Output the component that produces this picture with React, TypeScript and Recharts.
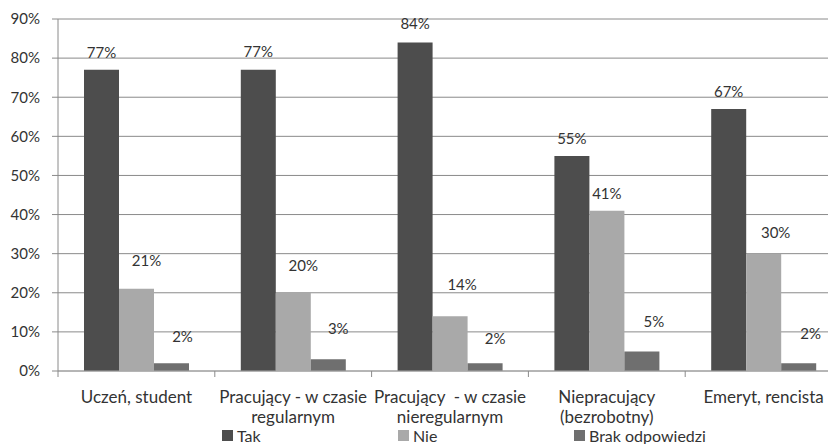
import React from "react";
import { Bar, BarChart, CartesianGrid, LabelList, Legend, XAxis, YAxis } from "recharts";

// group labels ("\n" marks a line break under the axis)
const categories = [
  "Uczeń, student",
  "Pracujący - w czasie\nregularnym",
  "Pracujący  - w czasie\nnieregularnym",
  "Niepracujący\n(bezrobotny)",
  "Emeryt, rencista",
];

const takValues = [77, 77, 84, 55, 67];
const nieValues = [21, 20, 14, 41, 30];
const brakValues = [2, 3, 2, 5, 2];

const yTicks = [0, 10, 20, 30, 40, 50, 60, 70, 80, 90];

const data = categories.map((name, i) => ({
  name,
  tak: takValues[i],
  nie: nieValues[i],
  brak: brakValues[i],
}));

const CHART_W = 850;
const CHART_H = 444;
const MARGIN = { top: 19, right: 8, left: 0, bottom: 0 };
const Y_W = 58;
const BAND = (CHART_W - MARGIN.left - MARGIN.right - Y_W) / categories.length;
const FONT = "Lato, 'Open Sans', sans-serif";

const series = [
  { key: "tak", name: "Tak", color: "#4d4d4d" },
  { key: "nie", name: "Nie", color: "#a9a9a9" },
  { key: "brak", name: "Brak odpowiedzi", color: "#6f6f6f" },
];

// hand-placed label nudges per series: [dx, lift above bar top]
const labelNudge: Record<string, number[][]> = {
  tak: [[0, 18], [0, 19], [0, 19], [0, 18], [0, 18]],
  nie: [[10, 29], [10, 28], [12, 32], [0, 18], [12, 22]],
  brak: [[11, 27], [10, 31], [10, 25], [12, 30], [12, 30]],
};

const makeLabel = (key: string) => (props: any) => {
  const { x, y, width, value, index } = props;
  const [dx, lift] = labelNudge[key][index] || [0, 18];
  return (
    <text
      x={x + width / 2 + dx}
      y={y - lift}
      textAnchor="middle"
      dominantBaseline="central"
      fontSize={15}
      fontFamily={FONT}
      fill="#333"
    >
      {`${value}%`}
    </text>
  );
};

const CategoryTick = (props: any) => {
  const { x, y, payload } = props;
  const lines = String(payload.value).split("\n");
  return (
    <g>
      <line x1={x - BAND / 2} y1={y} x2={x - BAND / 2} y2={y + 6} stroke="#8a8a8a" />
      {lines.map((line, i) => (
        <text
          key={i}
          x={x}
          y={y + 32 + i * 20}
          textAnchor="middle"
          fontSize={17}
          fontFamily={FONT}
          fill="#333"
          style={{ whiteSpace: "pre" }}
        >
          {line}
        </text>
      ))}
    </g>
  );
};

const LegendRow = () => (
  <div
    style={{
      height: 20,
      display: "flex",
      paddingLeft: 222,
      paddingTop: 3,
      boxSizing: "border-box",
      fontFamily: FONT,
      fontSize: 16,
      color: "#333",
      lineHeight: "16px",
    }}
  >
    {series.map((s) => (
      <div key={s.key} style={{ width: 176, display: "flex", alignItems: "center" }}>
        <span
          style={{
            display: "inline-block",
            width: 11,
            height: 11,
            background: s.color,
            marginRight: 4,
          }}
        />
        <span>{s.name}</span>
      </div>
    ))}
  </div>
);

export default function App() {
  return (
    <div
      style={{
        position: "fixed",
        left: 0,
        top: 0,
        width: 828,
        height: 444,
        overflow: "hidden",
        background: "#fff",
      }}
    >
      <BarChart
        width={CHART_W}
        height={CHART_H}
        data={data}
        margin={MARGIN}
        barCategoryGap={26}
        barGap={0}
      >
        <CartesianGrid vertical={false} stroke="#8a8a8a" />
        <XAxis
          dataKey="name"
          height={53}
          interval={0}
          tickSize={0}
          tickMargin={0}
          tickLine={false}
          axisLine={{ stroke: "#a6a6a6" }}
          tick={<CategoryTick />}
        />
        <YAxis
          width={Y_W}
          domain={[0, 90]}
          ticks={yTicks}
          interval={0}
          tickSize={6}
          tickMargin={12}
          tickLine={{ stroke: "#8a8a8a" }}
          axisLine={{ stroke: "#8a8a8a" }}
          tickFormatter={(v) => `${v}%`}
          tick={{ fontSize: 15, fontFamily: FONT, fill: "#333" }}
        />
        <Legend verticalAlign="bottom" content={<LegendRow />} />
        {series.map((s) => (
          <Bar key={s.key} dataKey={s.key} name={s.name} fill={s.color} isAnimationActive={false}>
            <LabelList dataKey={s.key} content={makeLabel(s.key)} />
          </Bar>
        ))}
      </BarChart>
    </div>
  );
}
